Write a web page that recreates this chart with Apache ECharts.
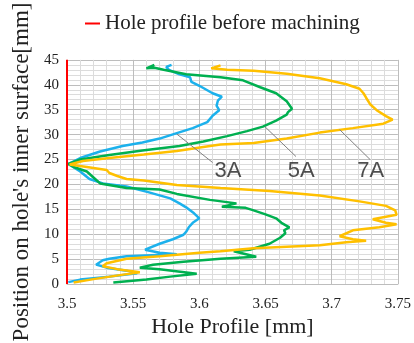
<!DOCTYPE html>
<html>
<head>
<meta charset="utf-8">
<script src="https://cdn.jsdelivr.net/npm/echarts@6/dist/echarts.min.js"></script>
<style>
  html, body { margin: 0; padding: 0; background: #fff; }
  #chart { width: 414px; height: 343px; }
</style>
</head>
<body>
<div id="chart"></div>
<script>
// profile [mm] / position on inner surface [mm], traced top -> bottom
const profile3A = [3.579, 3.575, 3.577, 3.585, 3.593, 3.594, 3.600, 3.606, 3.610, 3.617, 3.614, 3.613, 3.615, 3.610, 3.606, 3.595, 3.583, 3.570, 3.557, 3.542, 3.525, 3.510, 3.501, 3.510, 3.517, 3.527, 3.545, 3.562, 3.578, 3.585, 3.590, 3.596, 3.600, 3.595, 3.592, 3.590, 3.588, 3.580, 3.570, 3.559, 3.570, 3.583, 3.545, 3.532, 3.527, 3.522, 3.530, 3.545, 3.553, 3.532, 3.510, 3.501];
const position3A = [44.0, 43.6, 43.0, 42.1, 41.5, 40.6, 39.8, 38.9, 38.3, 37.6, 36.8, 35.8, 34.9, 33.8, 32.5, 31.3, 30.3, 29.2, 28.4, 27.7, 26.6, 25.3, 24.1, 22.6, 21.1, 20.2, 19.6, 18.4, 17.2, 16.2, 15.4, 14.2, 13.2, 12.3, 11.4, 10.5, 9.9, 9.0, 8.1, 6.9, 6.3, 6.0, 5.6, 5.1, 4.8, 3.9, 3.3, 2.7, 2.2, 1.5, 0.9, 0.4];

const profile5A = [3.566, 3.560, 3.566, 3.573, 3.590, 3.616, 3.633, 3.646, 3.658, 3.666, 3.670, 3.667, 3.666, 3.658, 3.648, 3.636, 3.621, 3.603, 3.585, 3.557, 3.532, 3.510, 3.501, 3.505, 3.515, 3.520, 3.525, 3.545, 3.570, 3.583, 3.608, 3.628, 3.617, 3.635, 3.641, 3.650, 3.658, 3.662, 3.668, 3.664, 3.665, 3.661, 3.653, 3.638, 3.626, 3.643, 3.616, 3.588, 3.565, 3.555, 3.570, 3.598, 3.578, 3.560, 3.535];
const position5A = [44.0, 43.3, 43.4, 43.0, 42.1, 41.5, 40.9, 39.5, 38.3, 36.7, 35.2, 34.5, 34.0, 32.8, 31.6, 30.7, 29.7, 28.6, 27.7, 26.8, 25.9, 25.0, 24.1, 23.5, 22.6, 21.4, 20.2, 19.3, 19.0, 18.1, 16.9, 16.2, 15.5, 15.3, 14.8, 14.0, 13.2, 12.3, 11.4, 10.8, 10.2, 9.3, 8.1, 6.9, 6.6, 5.5, 5.1, 4.5, 3.9, 3.3, 3.0, 2.1, 1.5, 0.9, 0.3];

const profile7A = [3.616, 3.609, 3.621, 3.641, 3.666, 3.691, 3.711, 3.721, 3.724, 3.726, 3.729, 3.734, 3.741, 3.746, 3.745, 3.739, 3.716, 3.691, 3.666, 3.641, 3.616, 3.608, 3.583, 3.558, 3.532, 3.512, 3.502, 3.515, 3.530, 3.532, 3.538, 3.545, 3.558, 3.583, 3.616, 3.653, 3.691, 3.721, 3.741, 3.748, 3.749, 3.731, 3.741, 3.749, 3.736, 3.716, 3.706, 3.716, 3.726, 3.711, 3.691, 3.666, 3.641, 3.616, 3.600, 3.570, 3.545, 3.530, 3.527, 3.538, 3.555, 3.540, 3.520, 3.505];
const position7A = [43.9, 43.3, 43.0, 42.8, 42.2, 41.3, 40.1, 39.2, 38.3, 37.4, 36.1, 34.9, 33.7, 33.0, 32.6, 32.2, 31.3, 30.4, 29.2, 28.3, 28.0, 27.7, 26.7, 26.0, 25.3, 24.7, 24.0, 23.5, 22.9, 22.3, 21.7, 21.1, 20.8, 19.9, 19.3, 18.7, 17.8, 16.6, 15.7, 14.8, 13.9, 13.0, 12.3, 12.0, 11.4, 10.8, 9.6, 9.0, 8.7, 8.4, 7.8, 7.5, 7.2, 6.6, 6.3, 5.6, 5.1, 4.2, 3.6, 3.0, 2.4, 1.8, 1.0, 0.3];

// hole profile before machining
const profileBefore = [3.5, 3.5];
const positionBefore = [0, 45];

// callout labels and their leader lines: [from, to]
const calloutNames = ['3A', '5A', '7A'];
const calloutAt = [[3.6216, 22.7], [3.677, 22.7], [3.7295, 22.7]];
const leaderLines = [
  [[3.583, 30.1], [3.610, 24.4]],
  [[3.6495, 31.6], [3.673, 25.6]],
  [[3.706, 31.0], [3.729, 25.0]]
];

const xTicks = [3.5, 3.55, 3.6, 3.65, 3.7, 3.75];

const zip = (xs, ys) => xs.map((x, i) => [x, ys[i]]);

const chart = echarts.init(document.getElementById('chart'));

const serif = 'Liberation Serif';

const profileSeries = (name, xs, ys, color) => ({
  name: name,
  type: 'line',
  data: zip(xs, ys),
  showSymbol: false,
  symbol: 'none',
  lineStyle: { color: color, width: 2.5 },
  itemStyle: { color: color },
  z: 3
});

const option = {
  animation: false,
  backgroundColor: '#fff',
  grid: { left: 67, right: 16, top: 36, bottom: 58, containLabel: false },
  legend: {
    data: ['Hole profile before machining'],
    left: 80,
    top: 8,
    icon: 'rect',
    itemWidth: 15,
    itemHeight: 2,
    itemGap: 0,
    textStyle: { fontFamily: serif, fontSize: 21, color: '#222' }
  },
  xAxis: {
    type: 'value',
    min: 3.5,
    max: 3.75,
    interval: 0.05,
    name: 'Hole Profile [mm]',
    nameLocation: 'middle',
    nameGap: 29,
    nameTextStyle: { fontFamily: serif, fontSize: 22, color: '#222' },
    axisLine: { show: true, lineStyle: { color: '#bdbdbd' } },
    axisTick: { show: false },
    axisLabel: {
      margin: 12,
      fontFamily: serif,
      fontSize: 15,
      color: '#222',
      formatter: v => {
        const t = xTicks.find(k => Math.abs(k - v) < 1e-6);
        return t === undefined ? '' : String(t);
      }
    },
    splitLine: { show: true, lineStyle: { color: '#bdbdbd', width: 1 } },
    minorTick: { show: false, splitNumber: 5 },
    minorSplitLine: { show: true, lineStyle: { color: '#dcdcdc', width: 1 } }
  },
  yAxis: {
    type: 'value',
    min: 0,
    max: 45,
    interval: 5,
    name: "Position on hole's inner surface[mm]",
    nameLocation: 'middle',
    nameGap: 31,
    nameTextStyle: { fontFamily: serif, fontSize: 23, color: '#222' },
    axisLine: { show: false },
    axisTick: { show: false },
    axisLabel: { margin: 8, fontFamily: serif, fontSize: 15, color: '#222' },
    splitLine: { show: true, lineStyle: { color: '#bdbdbd', width: 1 } },
    minorTick: { show: false, splitNumber: 5 },
    minorSplitLine: { show: true, lineStyle: { color: '#dcdcdc', width: 1 } }
  },
  series: [
    profileSeries('3A', profile3A, position3A, '#1cb1ec'),
    profileSeries('5A', profile5A, position5A, '#00b050'),
    profileSeries('7A', profile7A, position7A, '#ffc000'),
    {
      name: 'Hole profile before machining',
      type: 'line',
      data: zip(profileBefore, positionBefore),
      symbol: 'none',
      lineStyle: { color: '#ff0000', width: 2 },
      itemStyle: { color: '#ff0000' },
      z: 4
    },
    ...leaderLines.map(seg => ({
      type: 'line',
      data: seg,
      symbol: 'none',
      silent: true,
      lineStyle: { color: '#808080', width: 1 },
      z: 5
    })),
    {
      type: 'scatter',
      symbolSize: 0,
      silent: true,
      data: calloutAt.map((p, i) => ({ name: calloutNames[i], value: p })),
      label: {
        show: true,
        position: 'inside',
        formatter: p => p.name,
        fontFamily: 'Liberation Sans',
        fontSize: 22,
        color: '#222'
      },
      z: 6
    }
  ]
};

chart.setOption(option);
</script>
</body>
</html>
